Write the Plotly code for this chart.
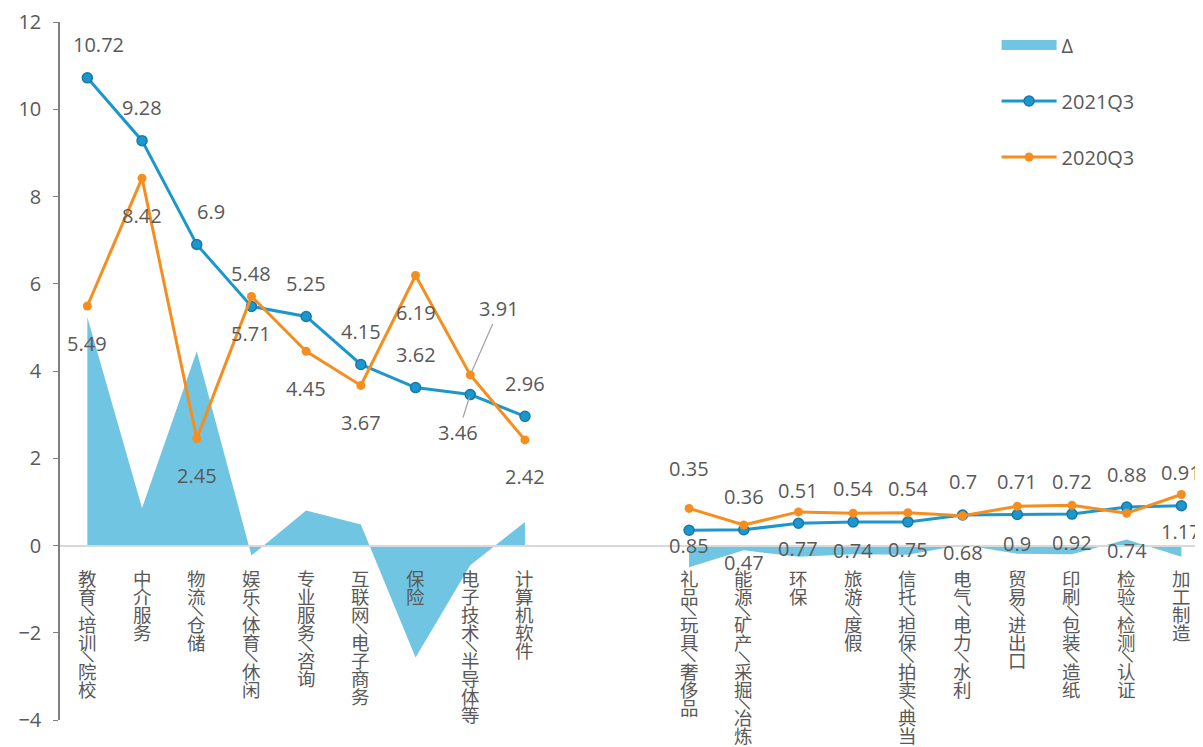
import plotly.graph_objects as go

categories = ["教育/培训/院校", "中介服务", "物流/仓储", "娱乐/体育/休闲", "专业服务/咨询",
              "互联网/电子商务", "保险", "电子技术/半导体等", "计算机软件", "", "",
              "礼品/玩具/奢侈品", "能源/矿产/采掘/冶炼", "环保", "旅游/度假", "信托/担保/拍卖/典当",
              "电气/电力/水利", "贸易/进出口", "印刷/包装/造纸", "检验/检测/认证", "加工制造"]
q2021 = [10.72, 9.28, 6.9, 5.48, 5.25, 4.15, 3.62, 3.46, 2.96, None, None,
         0.35, 0.36, 0.51, 0.54, 0.54, 0.7, 0.71, 0.72, 0.88, 0.91]
q2020 = [5.49, 8.42, 2.45, 5.71, 4.45, 3.67, 6.19, 3.91, 2.42, None, None,
         0.85, 0.47, 0.77, 0.74, 0.75, 0.68, 0.9, 0.92, 0.74, 1.17]
delta = [5.23, 0.86, 4.45, -0.23, 0.8, 0.48, -2.57, -0.45, 0.54, None, None,
         -0.5, -0.11, -0.26, -0.2, -0.21, 0.02, -0.19, -0.2, 0.14, -0.26]
yticks = [-4, -2, 0, 2, 4, 6, 8, 10, 12]

x = list(range(len(categories)))
segments = [(0, 9), (11, 21)]

C_AREA = "#70C5E3"
C_BLUE = "#1B97CD"
C_ORANGE = "#F68E1F"
C_TEXT = "#595959"
FONT = "Noto Sans CJK SC"
NUMFONT = "Open Sans"

fig = go.Figure()
# legend entry for the Δ area (drawn as a flat bar like the original legend patch)
fig.add_trace(go.Scatter(x=[None], y=[None], mode="lines", name="Δ", legendgroup="d",
                         line=dict(color=C_AREA, width=13), hoverinfo="skip"))
for k, (a, b) in enumerate(segments):
    fig.add_trace(go.Scatter(x=x[a:b], y=delta[a:b], mode="none", fill="tozeroy",
                             fillcolor=C_AREA, name="Δ", legendgroup="d",
                             showlegend=False, hoverinfo="skip"))
for k, (a, b) in enumerate(segments):
    fig.add_trace(go.Scatter(x=x[a:b], y=q2021[a:b], mode="lines+markers", name="2021Q3",
                             legendgroup="a", showlegend=(k == 0),
                             line=dict(color=C_BLUE, width=3),
                             marker=dict(size=10, color=C_BLUE, line=dict(color="#157aa8", width=1.5))))
for k, (a, b) in enumerate(segments):
    fig.add_trace(go.Scatter(x=x[a:b], y=q2020[a:b], mode="lines+markers", name="2020Q3",
                             legendgroup="b", showlegend=(k == 0),
                             line=dict(color=C_ORANGE, width=3),
                             marker=dict(size=9, color=C_ORANGE)))

# data-label placement (style only)
off2021 = {0: (11, 33), 2: (14, 33), 11: (0, 62)}
off2020 = {}
arrow2021 = {7: (-12, 38)}
arrow2020 = {7: (29, -66)}

annotations = []
for series, default, offs, arrows in ((q2021, (0, 33), off2021, arrow2021),
                                      (q2020, (0, -37), off2020, arrow2020)):
    for i, v in enumerate(series):
        if v is None:
            continue
        txt = f"{v:g}"
        if i in arrows:
            ax, ay = arrows[i]
            annotations.append(dict(x=i, y=v, text=txt, showarrow=True, arrowhead=0,
                                    arrowwidth=1.3, arrowcolor="#A6A6A6", ax=ax, ay=ay,
                                    standoff=3, font=dict(size=20, color=C_TEXT, family=NUMFONT)))
        else:
            xs, ys = offs.get(i, default)
            annotations.append(dict(x=i, y=v, text=txt, showarrow=False, xshift=xs, yshift=ys,
                                    font=dict(size=20, color=C_TEXT, family=NUMFONT)))

# vertical (top-to-bottom) category labels under the zero line
TOP_GAP, CJK_STEP, SLASH_STEP = 23, 18, 10.5
for i, lab in enumerate(categories):
    if not lab:
        continue
    cur = TOP_GAP
    for ch in lab:
        if ch == "/":
            center = cur + SLASH_STEP / 2
            cur += SLASH_STEP
            annotations.append(dict(x=i, y=0, text="|", showarrow=False, yshift=-center,
                                    xanchor="center", yanchor="middle", textangle=-45,
                                    font=dict(size=15, color=C_TEXT, family="DejaVu Sans")))
        else:
            center = cur + CJK_STEP / 2
            cur += CJK_STEP
            annotations.append(dict(x=i, y=0, text=ch, showarrow=False, yshift=-center,
                                    xanchor="center", yanchor="middle",
                                    font=dict(size=18.5, color=C_TEXT, family=FONT)))

tick_idx = [i for i, c in enumerate(categories) if c]
# the page body adds an 8px offset, so the figure is 8px smaller than the window
fig.update_layout(
    width=1195, height=739,
    margin=dict(l=52, r=0, t=14, b=27),
    plot_bgcolor="white", paper_bgcolor="white",
    font=dict(family=FONT, color=C_TEXT),
    showlegend=True,
    legend=dict(x=0.8194, y=0.995, xanchor="left", yanchor="top", traceorder="grouped",
                tracegroupgap=27, itemwidth=55, font=dict(size=20, color=C_TEXT, family=NUMFONT),
                bgcolor="rgba(0,0,0,0)"),
    annotations=annotations,
    xaxis=dict(range=[-0.5, 20.395], anchor="free", position=0.25,
               tickmode="array", tickvals=tick_idx, showticklabels=False, ticks="",
               showline=True, linecolor="#D9D9D9", linewidth=2,
               showgrid=False, zeroline=False, automargin=False),
    yaxis=dict(range=[-4, 12], tickvals=yticks, ticks="outside", ticklen=5,
               tickcolor="#7F7F7F", showline=True, linecolor="#7F7F7F", linewidth=1.5,
               ticklabelstandoff=8,
               tickfont=dict(size=20, color=C_TEXT, family=NUMFONT),
               showgrid=False, zeroline=False, automargin=False),
)

fig.write_html("out.html")
